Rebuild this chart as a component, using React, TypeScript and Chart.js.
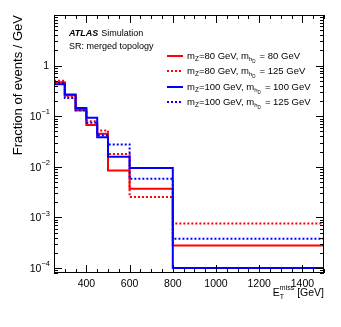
import React, { useEffect, useRef } from "react";
import { Chart, registerables } from "chart.js";
Chart.register(...registerables);

const binEdges = [250, 300, 350, 400, 450, 500, 600, 800, 1500];
const redSolid = [0.47, 0.26, 0.135, 0.067, 0.045, 0.0085, 0.0037, 0.00028];
const redDotted = [0.5, 0.25, 0.13, 0.08, 0.052, 0.018, 0.00255, 0.00076];
const blueSolid = [0.43, 0.27, 0.145, 0.093, 0.0386, 0.0158, 0.0095, 0.0001];
const blueDotted = [0.45, 0.23, 0.13, 0.074, 0.042, 0.0277, 0.0058, 0.00038];
const seriesLabels = [
  ["80", "80"],
  ["80", "125"],
  ["100", "100"],
  ["100", "125"],
];
const xTickLabels = [400, 600, 800, 1000, 1200, 1400];
const yTickExps = [0, -1, -2, -3, -4];

const FONT = "'Liberation Sans', Arial, sans-serif";

function toSteps(vals: number[]) {
  const pts = vals.map((v, i) => ({ x: binEdges[i], y: v }));
  pts.push({ x: binEdges[binEdges.length - 1], y: vals[vals.length - 1] });
  return pts;
}

const decorPlugin = {
  id: "decor",
  afterDraw(chart: any) {
    const ctx = chart.ctx;
    const a = chart.chartArea;
    const xs = chart.scales.x;
    const ys = chart.scales.y;
    ctx.save();
    ctx.strokeStyle = "#000";
    ctx.lineWidth = 1;
    ctx.strokeRect(a.left + 0.5, a.top + 0.5, a.right - a.left - 1, a.bottom - a.top - 1);
    ctx.beginPath();
    for (let v = 250; v <= 1500; v += 50) {
      const px = Math.round(xs.getPixelForValue(v)) + 0.5;
      const len = v % 200 === 0 ? 8 : 4;
      ctx.moveTo(px, a.bottom);
      ctx.lineTo(px, a.bottom - len);
      ctx.moveTo(px, a.top);
      ctx.lineTo(px, a.top + len);
    }
    for (let e = -5; e <= 1; e++) {
      for (let m = 1; m <= 9; m++) {
        const v = m * Math.pow(10, e);
        if (v < ys.min || v > ys.max) continue;
        const py = Math.round(ys.getPixelForValue(v)) + 0.5;
        const len = m === 1 ? 8 : 4;
        ctx.moveTo(a.left, py);
        ctx.lineTo(a.left + len, py);
        ctx.moveTo(a.right, py);
        ctx.lineTo(a.right - len, py);
      }
    }
    ctx.stroke();
    ctx.fillStyle = "#000";
    // x tick labels
    ctx.font = `10.5px ${FONT}`;
    ctx.textAlign = "center";
    ctx.textBaseline = "top";
    xTickLabels.forEach((v) => {
      ctx.fillText(String(v), xs.getPixelForValue(v), a.bottom + 6);
    });
    // y tick labels
    yTickExps.forEach((e) => {
      const py = ys.getPixelForValue(Math.pow(10, e));
      ctx.textBaseline = "middle";
      ctx.textAlign = "right";
      if (e === 0) {
        ctx.font = `10.5px ${FONT}`;
        ctx.fillText("1", a.left - 5, py);
      } else {
        ctx.font = `7.5px ${FONT}`;
        const sup = "\u2212" + String(-e);
        const supW = ctx.measureText(sup).width;
        ctx.fillText(sup, a.left - 4, py - 4);
        ctx.font = `10.5px ${FONT}`;
        ctx.fillText("10", a.left - 4 - supW, py + 1);
      }
    });
    // y axis title (aligned to the top of the frame)
    ctx.save();
    ctx.translate(18, a.top);
    ctx.rotate(-Math.PI / 2);
    ctx.font = `13px ${FONT}`;
    ctx.textAlign = "right";
    ctx.textBaseline = "middle";
    ctx.fillText("Fraction of events / GeV", 0, 0);
    ctx.restore();
    // x axis title
    ctx.textAlign = "left";
    ctx.textBaseline = "alphabetic";
    ctx.font = `10.5px ${FONT}`;
    const wE = ctx.measureText("E").width;
    const wG = ctx.measureText(" [GeV]").width;
    ctx.font = `7px ${FONT}`;
    const wS = Math.max(ctx.measureText("T").width, ctx.measureText("miss").width);
    let x0 = a.right - (wE + wS + wG);
    const by = 296;
    ctx.font = `10.5px ${FONT}`;
    ctx.fillText("E", x0, by);
    x0 += wE;
    ctx.font = `7px ${FONT}`;
    ctx.fillText("T", x0, by + 3);
    ctx.fillText("miss", x0, by - 6);
    x0 += wS;
    ctx.font = `10.5px ${FONT}`;
    ctx.fillText(" [GeV]", x0, by);

    // ATLAS label
    ctx.font = `bold italic 9px ${FONT}`;
    ctx.textBaseline = "middle";
    ctx.fillText("ATLAS", 69, 34);
    const aw = ctx.measureText("ATLAS").width + 3;
    ctx.font = `9px ${FONT}`;
    ctx.fillText("Simulation", 69 + aw, 34);
    ctx.fillText("SR: merged topology", 69, 47);

    // legend
    const colors = ["#ff0000", "#ff0000", "#0000ff", "#0000ff"];
    const dashed = [false, true, false, true];
    const rows = [56, 71, 87, 102];
    rows.forEach((ry, i) => {
      ctx.save();
      ctx.strokeStyle = colors[i];
      ctx.lineWidth = 2;
      ctx.setLineDash(dashed[i] ? [2, 2] : []);
      ctx.beginPath();
      ctx.moveTo(167, ry);
      ctx.lineTo(183, ry);
      ctx.stroke();
      ctx.restore();
      let tx = 187;
      const put = (t: string, size: number, dy: number) => {
        ctx.font = `${size}px ${FONT}`;
        ctx.fillText(t, tx, ry + dy);
        tx += ctx.measureText(t).width;
      };
      ctx.textBaseline = "middle";
      put("m", 9.5, 0);
      put("Z", 6.5, 3);
      put(`=${seriesLabels[i][0]} GeV, m`, 9.5, 0);
      const hx = tx;
      put("h", 6, 3);
      put("D", 4.5, 6);
      tx = Math.max(tx, hx + 8);
      put(` = ${seriesLabels[i][1]} GeV`, 9.5, 0);
    });
    ctx.restore();
  },
};

export default function App() {
  const ref = useRef<HTMLCanvasElement | null>(null);
  useEffect(() => {
    if (!ref.current) return;
    const mk = (data: number[], color: string, dash: boolean, order: number) => ({
      data: toSteps(data),
      borderColor: color,
      backgroundColor: color,
      borderWidth: 2,
      borderDash: dash ? [2, 2] : [],
      pointRadius: 0,
      stepped: "before" as const,
      fill: false,
      order,
    });
    const chart = new Chart(ref.current, {
      type: "line",
      data: {
        datasets: [
          mk(redSolid, "#ff0000", false, 4),
          mk(redDotted, "#ff0000", true, 3),
          mk(blueSolid, "#0000ff", false, 2),
          mk(blueDotted, "#0000ff", true, 1),
        ],
      },
      options: {
        animation: false,
        responsive: false,
        maintainAspectRatio: false,
        devicePixelRatio: 1,
        layout: { padding: { left: 54, right: 17, top: 15, bottom: 54 } },
        plugins: { legend: { display: false }, tooltip: { enabled: false } },
        scales: {
          x: { type: "linear", min: 250, max: 1500, display: false },
          y: { type: "logarithmic", min: 8e-5, max: 10, display: false },
        },
      },
      plugins: [decorPlugin],
    });
    return () => chart.destroy();
  }, []);
  return (
    <div style={{ position: "fixed", left: 0, top: 0, width: 341, height: 327, background: "#fff" }}>
      <canvas ref={ref} width={341} height={327} style={{ width: 341, height: 327 }} />
    </div>
  );
}
